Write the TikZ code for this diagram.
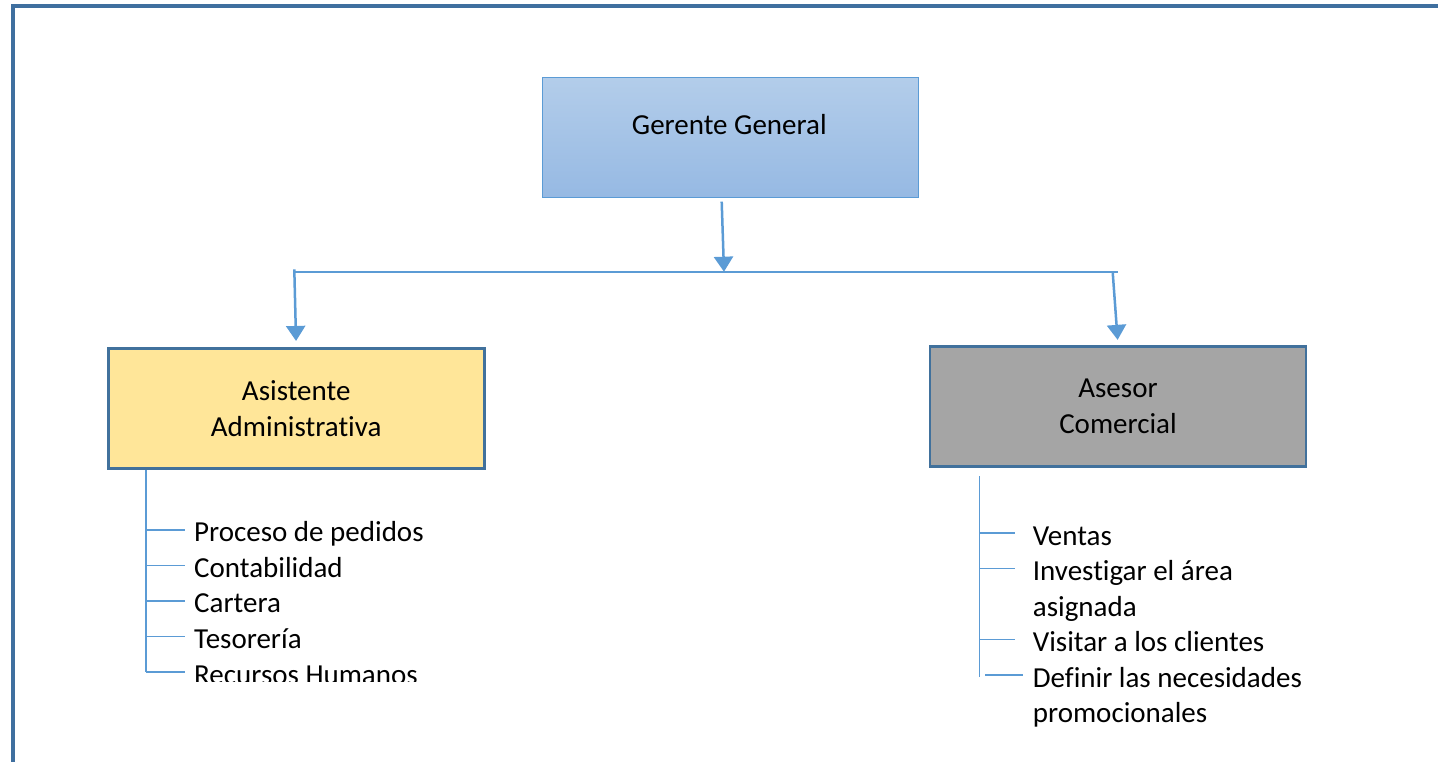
\documentclass[tikz,border=0pt]{standalone}
\usepackage{fontspec}
\setmainfont[Ligatures=NoCommon]{Carlito}
\usepackage{tikz}
\usetikzlibrary{positioning}
\usetikzlibrary{arrows.meta}

\definecolor{framecol}{HTML}{3F6F9F}
\definecolor{boxline}{HTML}{41719C}
\definecolor{linkblue}{HTML}{5B9BD5}
\definecolor{ggtop}{HTML}{B3CDEA}
\definecolor{ggbot}{HTML}{96B9E3}
\definecolor{asyellow}{HTML}{FFE699}
\definecolor{asgray}{HTML}{A5A5A5}

\begin{document}
\begin{tikzpicture}[x=1pt,y=-1pt]
        \tikzstyle{box}=[draw=boxline, line width=2.7pt, minimum width=376pt,
            minimum height=120pt, inner sep=0pt, align=center,
            font=\fontsize{29}{35.7}\selectfont]
        \tikzstyle{link}=[draw=linkblue, line width=2.5pt,
            -{Triangle[width=19pt,length=15pt]}]
        \tikzstyle{item}=[anchor=base west, inner sep=0pt, text height=24pt,
            text depth=0pt, font=\fontsize{29}{35.7}\selectfont]
        \tikzstyle{tick}=[draw=linkblue, line width=1.6pt]

            \useasboundingbox (0,0) rectangle (1438,762);
            \draw[framecol, line width=4pt] (13,764) -- (13,6) -- (1440,6);

            % boxes
            \node[box, draw=linkblue, line width=1.3pt,
                top color=ggtop, bottom color=ggbot] (gg) at (730.5,137.5) {};
            \node[anchor=base, inner sep=0pt,
                font=\fontsize{29}{35.7}\selectfont] (ggname) at (729.3,135) {Gerente General};
            \node[box, fill=asyellow] (asist) at (296.2,408.3) {Asistente\\Administrativa};
            \node[box, fill=asgray] (asesor) at (1118,406.2) {Asesor\\Comercial};

            % branch bar
            \coordinate (ggout) at (721.7,201.7);
            \coordinate (barM) at (724,271.7);
            \coordinate (barL) at (294.3,272.3);
            \coordinate (barLtop) at (294.3,269.3);
            \coordinate (barR) at (1117.5,272.3);
            \coordinate (barRarr) at (1112.7,272.3);

            \draw[linkblue, line width=2pt] (barL) -- (barR);
            \draw[link] (ggout) -- (barM);
            \draw[link, shorten >=6pt] (barLtop) -- (asist.north);
            \draw[link, shorten >=5pt] (barRarr) -- (asesor.north);

            % tasks of the assistant
            \coordinate (adtop) at (145.7,470);
            \coordinate (adbot) at (145.7,671.7);
            \draw[tick] (adtop) -- (adbot);
            \begin{scope}
                \clip (0,0) rectangle (1438,681);
                \foreach \n/\y/\txt in {1/541.7/Proceso de pedidos,
                    2/577.3/Contabilidad, 3/612.9/Cartera,
                    4/648.5/Tesorería, 5/684.1/Recursos Humanos}{
                    \node[item] (ad\n) at (194,\y) {\txt};
                    \draw[tick] (ad\n.west -| adtop) -- ([xshift=-9pt]ad\n.west);
                }
            \end{scope}

            % tasks of the sales advisor
            \coordinate (actop) at (979.3,476);
            \coordinate (acbot) at (979.3,676.7);
            \coordinate (actick) at (985,676.7);
            \draw[tick] (actop) -- (acbot);
            \foreach \n/\y/\txt in {1/545/Ventas, 2/580.5/Investigar el área,
                3/616/asignada, 4/651.5/Visitar a los clientes,
                5/687/Definir las necesidades, 6/722.5/promocionales}{
                \node[item] (ac\n) at (1032.7,\y) {\txt};
            }
            \foreach \n in {1,2,4}{
                \draw[tick] (ac\n.west -| actop) -- ([xshift=-17.7pt]ac\n.west);
            }
            \draw[tick] (ac5.west -| actick) -- ([xshift=-9.7pt]ac5.west);
        \end{tikzpicture}
\end{document}
